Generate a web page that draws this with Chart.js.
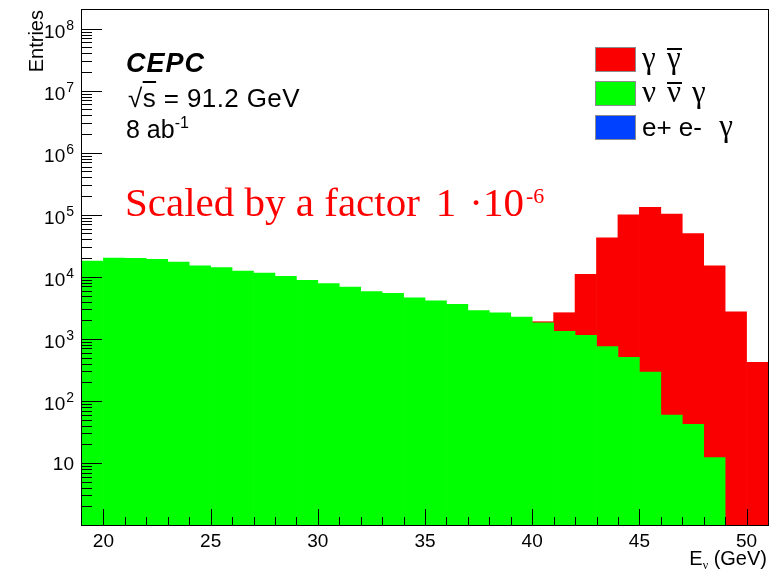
<!DOCTYPE html>
<html>
<head>
<meta charset="utf-8">
<title>CEPC photon energy spectrum</title>
<script src="https://cdn.jsdelivr.net/npm/chart.js@4.4.1/dist/chart.umd.min.js"></script>
<style>
  html, body { margin: 0; padding: 0; background: #fff; }
  #wrap { position: relative; width: 774px; height: 569px; overflow: hidden; }
  #wrap canvas { position: absolute; left: 0; top: 0; }
  .t { position: absolute; white-space: nowrap; line-height: 1; font-family: "Liberation Sans", Arial, sans-serif; color: #000; }
  .serif { font-family: "Liberation Serif", "Times New Roman", serif; }
  .ov { text-decoration: overline; text-decoration-thickness: 1.5px; }
  .g { display: inline-block; width: 25px; font-family: "Liberation Serif", "Times New Roman", serif; font-size: 31px; }
  .bar { position: relative; }
  .bar::before { content: ''; position: absolute; left: 0; width: 15px; top: 6px; border-top: 2px solid #000; }
  .box { position: absolute; width: 41px; height: 25px; box-sizing: border-box; border: 1px solid #8c8c8c; }
</style>
</head>
<body>
<div id="wrap">
  <canvas id="chart" width="774" height="569"></canvas>

  <div class="t" style="left:26px; top:210px; width:200px; text-align:right; font-size:20px; transform:rotate(-90deg); transform-origin:0 0;">Entries</div>

  <div class="t" style="left:126px; top:50px; font-size:27px; font-weight:bold; font-style:italic; letter-spacing:1px;">CEPC</div>
  <div class="t" style="left:128px; top:85px; font-size:26px; letter-spacing:0.4px;">√<span class="ov">s</span> = 91.2 GeV</div>
  <div class="t" style="left:126px; top:117px; font-size:25px;">8 ab<span style="font-size:16px; position:relative; top:-10px;">-1</span></div>

  <div class="t serif" style="left:125px; top:182px; font-size:41px; color:#ff0000;">Scaled by a factor<span style="margin-left:16px;">1</span><span style="margin-left:13px;">·10</span><span style="font-size:22px; position:relative; top:-13px; margin-left:2px;">-6</span></div>

  <div id="legend"></div>

  <div class="t" style="left:0; width:767px; text-align:right; top:548px; font-size:20px;">E<span class="serif" style="font-size:12px; position:relative; top:4px;">ν</span> (GeV)</div>
</div>

<script>
// 1 GeV bins, lower edges from 19 to 50 GeV
const binEdges = [19, 20, 21, 22, 23, 24, 25, 26, 27, 28, 29, 30, 31, 32, 33, 34,
                  35, 36, 37, 38, 39, 40, 41, 42, 43, 44, 45, 46, 47, 48, 49, 50];

// nu nubar gamma (bottom of the stack)
const nuNuGamma = [18000, 20100, 19900, 19200, 17300, 15100, 14100, 12400, 11500, 10200, 8800,
                   7800, 6860, 5760, 5400, 4600, 4100, 3600, 2850, 2640, 2250, 1820,
                   1320, 1140, 750, 505, 292, 59, 42, 12.2, null, null];

// gamma gammabar, stacked on top
const gammaGamma = [null, null, null, null, null, null, null, null, null, null, null,
                    null, null, null, null, null, null, null, null, null, null, 70,
                    1320, 9860, 41900, 99500, 131700, 102900, 49960, 15090, 2740, 419];

// e+ e- gamma, nothing visible above the axis minimum
const eeGamma = [0, 0, 0, 0, 0, 0, 0, 0, 0, 0, 0, 0, 0, 0, 0, 0,
                 0, 0, 0, 0, 0, 0, 0, 0, 0, 0, 0, 0, 0, 0, 0, 0];

const xTickValues = [20, 25, 30, 35, 40, 45, 50];
const yTickValues = [10, 1e2, 1e3, 1e4, 1e5, 1e6, 1e7, 1e8];

const seriesLabels = [
    '<span class="g">γ</span><span class="g bar">γ</span>',
    '<span class="g">ν</span><span class="g bar">ν</span><span class="g">γ</span>',
    'e+ e- <span class="g" style="margin-left:10px;">γ</span>'
];
const seriesColors = ['#fa0000', '#00ff00', '#0040ff'];

const toPoints = vals => vals.map((v, i) => ({ x: binEdges[i] + 0.5, y: v }));

// ROOT style frame: ticks pointing inwards, labels drawn by hand
const rootFrame = {
    id: 'rootFrame',
    afterDatasetsDraw(chart) {
        const { ctx, chartArea: a, scales: { x, y } } = chart;
        ctx.save();
        ctx.strokeStyle = '#000';
        ctx.lineWidth = 1;
        ctx.beginPath();
        for (let v = Math.ceil(x.min); v < x.max; v++) {
            if (v === x.min) continue;
            const px = Math.round(x.getPixelForValue(v)) + 0.5;
            const len = xTickValues.includes(v) ? 16 : 8;
            ctx.moveTo(px, a.bottom);
            ctx.lineTo(px, a.bottom - len);
        }
        for (let d = 0; d <= 8; d++) {
            for (let m = 1; m <= 9; m++) {
                const v = m * Math.pow(10, d);
                if (v <= y.min || v >= y.max) continue;
                const py = Math.round(y.getPixelForValue(v)) + 0.5;
                const len = m === 1 ? 20 : 10;
                ctx.moveTo(a.left, py);
                ctx.lineTo(a.left + len, py);
            }
        }
        ctx.stroke();
        ctx.strokeRect(Math.round(a.left) - 0.5, Math.round(a.top) - 0.5,
                       Math.round(a.width) + 1, Math.round(a.height) + 1);

        ctx.fillStyle = '#000';
        ctx.textBaseline = 'alphabetic';
        ctx.font = '19px "Liberation Sans", Arial, sans-serif';
        ctx.textAlign = 'center';
        xTickValues.forEach(v => ctx.fillText(String(v), x.getPixelForValue(v), a.bottom + 22));

        const right = a.left - 8;
        yTickValues.forEach(v => {
            const py = y.getPixelForValue(v);
            const exp = Math.round(Math.log10(v));
            ctx.textAlign = 'right';
            if (exp === 1) {
                ctx.font = '19px "Liberation Sans", Arial, sans-serif';
                ctx.fillText('10', right, py + 7);
                return;
            }
            ctx.font = '14px "Liberation Sans", Arial, sans-serif';
            const ew = ctx.measureText(String(exp)).width;
            ctx.fillText(String(exp), right, py + 1);
            ctx.font = '19px "Liberation Sans", Arial, sans-serif';
            ctx.fillText('10', right - ew - 1, py + 9);
        });
        ctx.restore();
    }
};

new Chart(document.getElementById('chart'), {
    type: 'bar',
    data: {
        datasets: [
            { label: 'nu nubar gamma', data: toPoints(nuNuGamma), backgroundColor: seriesColors[1] },
            { label: 'gamma gammabar', data: toPoints(gammaGamma), backgroundColor: seriesColors[0] },
            { label: 'e+ e- gamma', data: toPoints(eeGamma), backgroundColor: seriesColors[2], inflateAmount: 0 }
        ]
    },
    options: {
        responsive: false,
        animation: false,
        layout: { padding: { left: 82, right: 6, top: 10, bottom: 44 } },
        datasets: { bar: { barPercentage: 1, categoryPercentage: 1, borderWidth: 0 } },
        plugins: { legend: { display: false }, tooltip: { enabled: false } },
        scales: {
            x: { type: 'linear', min: 19, max: 51, offset: false, stacked: true, display: false },
            y: { type: 'logarithmic', min: 1, max: 2e8, stacked: true, display: false }
        }
    },
    plugins: [rootFrame]
});

// legend box, top right inside the frame
const legend = document.getElementById('legend');
seriesLabels.forEach((lab, i) => {
    const top = 47 + i * 34.2;
    const box = document.createElement('div');
    box.className = 'box';
    box.style.left = '595px';
    box.style.top = top + 'px';
    box.style.background = seriesColors[i];
    legend.appendChild(box);
    const txt = document.createElement('div');
    txt.className = 't';
    txt.style.left = '642px';
    txt.style.top = (top + 20.5 - 26) + 'px';
    txt.style.fontSize = '26px';
    txt.innerHTML = lab;
    legend.appendChild(txt);
});
</script>
</body>
</html>
